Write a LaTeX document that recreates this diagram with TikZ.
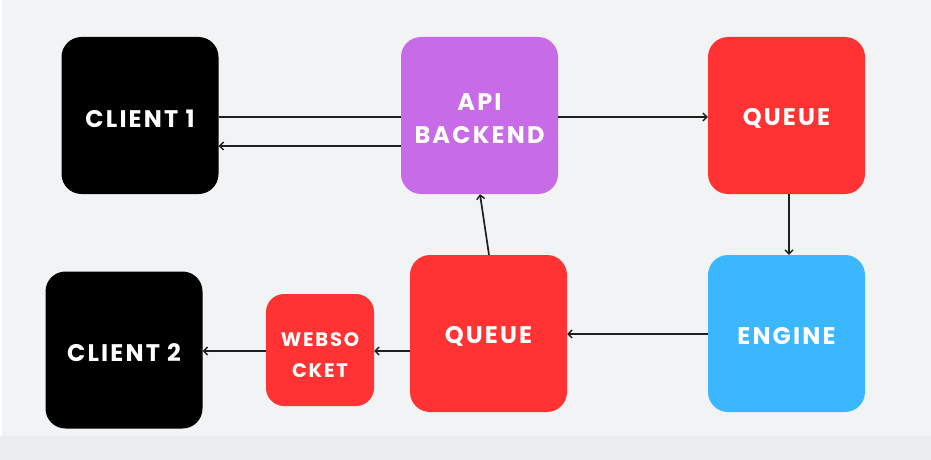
\documentclass[tikz,border=0pt]{standalone}
\usepackage{fontspec}
\setmainfont{Poppins}
\usetikzlibrary{arrows.meta}
\definecolor{bgmain}{HTML}{F2F3F5}
\definecolor{bgstrip}{HTML}{ECEDF1}
\definecolor{cblack}{HTML}{000000}
\definecolor{cpurple}{HTML}{C76BE6}
\definecolor{cred}{HTML}{FF3333}
\definecolor{cblue}{HTML}{3BB7FF}
\definecolor{cline}{HTML}{1E1E1E}
\tikzset{
  box/.style={rounded corners=20pt, minimum width=157pt, minimum height=157pt, inner sep=0pt},
  smallbox/.style={box, rounded corners=18pt, minimum width=108pt, minimum height=112pt},
  bigtext/.style={text=white, align=center, inner sep=0pt, yshift=-3pt,
    font=\fontsize{24}{33}\selectfont\bfseries\addfontfeatures{LetterSpace=9}},
  smalltext/.style={bigtext, yshift=-2.5pt,
    font=\fontsize{19.5}{31}\selectfont\bfseries\addfontfeatures{LetterSpace=9}},
  conn/.style={draw=cline, line width=1.7pt},
  arr/.style={conn, -{Straight Barb[length=4pt,width=8pt,line width=1.4pt]}}
}
\begin{document}
\begin{tikzpicture}[x=1pt,y=-1pt]
\fill[bgstrip] (0,0) rectangle (931,460);
\fill[bgmain] (0,0) rectangle (931,436);
\fill[white] (0,0) rectangle (1.5,436);
\useasboundingbox (0,0) rectangle (931,460);

\node[box, fill=cblack, label={[bigtext]center:CLIENT 1}] (c1) at (140,115.5) {};
\node[box, fill=cpurple, label={[bigtext]center:API\\BACKEND}] (api) at (479.5,115.5) {};
\node[box, fill=cred, label={[bigtext]center:QUEUE}] (q1) at (786.5,115.5) {};
\node[box, fill=cblack, label={[bigtext]center:CLIENT 2}] (c2) at (124,350) {};
\node[smallbox, fill=cred, label={[smalltext]center:WEBSO\\CKET}] (ws) at (320,350) {};
\node[box, fill=cred, label={[bigtext]center:QUEUE}] (q2) at (488.5,333.5) {};
\node[box, fill=cblue, label={[bigtext]center:ENGINE}] (eng) at (786.5,333.5) {};

\draw[conn] (c1.east |- 0,117) -- (api.west |- 0,117);
\draw[arr] (api.west |- 0,146) -- (c1.east |- 0,146);
\draw[arr] (api.east |- 0,117) -- (q1.west |- 0,117);
\draw[arr] (q1.south -| 789,0) -- (eng.north -| 789,0);
\draw[arr] (eng.west |- 0,334) -- (q2.east |- 0,334);
\draw[arr] (q2.north -| 489,0) -- (api.south -| 480,0);
\draw[arr] (q2.west |- 0,351) -- (ws.east |- 0,351);
\draw[arr] (ws.west |- 0,351) -- (c2.east |- 0,351);
\end{tikzpicture}
\end{document}
